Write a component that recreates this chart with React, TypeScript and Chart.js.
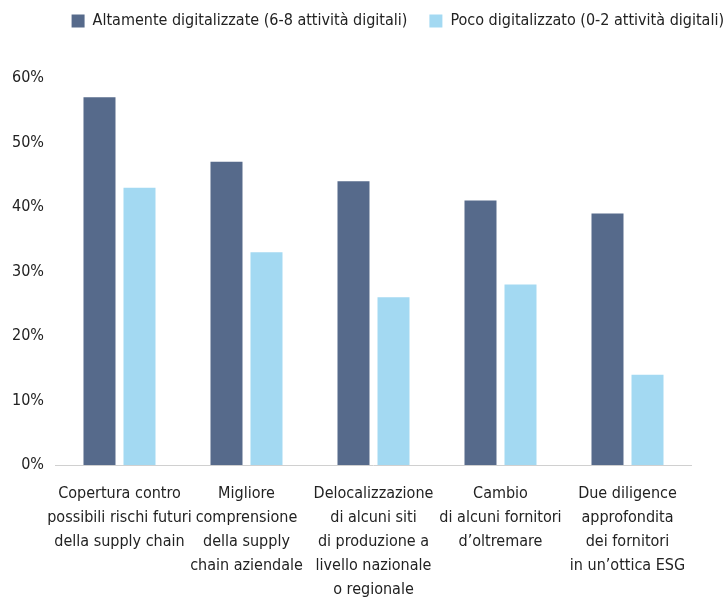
import React, { useEffect, useRef } from "react";
import { Chart, registerables } from "chart.js";

Chart.register(...registerables);

const categories: string[][] = [
  ["Copertura contro", "possibili rischi futuri", "della supply chain"],
  ["Migliore", "comprensione", "della supply", "chain aziendale"],
  ["Delocalizzazione", "di alcuni siti", "di produzione a", "livello nazionale", "o regionale"],
  ["Cambio", "di alcuni fornitori", "d\u2019oltremare"],
  ["Due diligence", "approfondita", "dei fornitori", "in un\u2019ottica ESG"],
];
const seriesHigh = [57, 47, 44, 41, 39];
const seriesLow = [43, 33, 26, 28, 14];
const seriesNames = [
  "Altamente digitalizzate (6-8 attivit\u00e0 digitali)",
  "Poco digitalizzato (0-2 attivit\u00e0 digitali)",
];
const yTicks = { min: 0, max: 60, step: 10 };

const FONT = "'Liberation Sans Narrow', 'DejaVu Sans Condensed', 'Roboto', sans-serif";

const legendSpacer = {
  id: "legendSpacer",
  beforeInit(chart: any) {
    const origFit = chart.legend.fit;
    chart.legend.fit = function () {
      origFit.bind(chart.legend)();
      this.height += 39;
    };
  },
};

export default function App() {
  const ref = useRef<HTMLCanvasElement | null>(null);
  useEffect(() => {
    document.body.style.margin = "0";
    if (!ref.current) return;
    const chart = new Chart(ref.current, {
      type: "bar",
      data: {
        labels: categories,
        datasets: [
          {
            label: seriesNames[0],
            data: seriesHigh,
            backgroundColor: "#566a8b",
            barPercentage: 0.8,
            categoryPercentage: 0.63,
          },
          {
            label: seriesNames[1],
            data: seriesLow,
            backgroundColor: "#a3d9f2",
            barPercentage: 0.8,
            categoryPercentage: 0.63,
          },
        ],
      },
      plugins: [legendSpacer],
      options: {
        animation: false,
        responsive: false,
        maintainAspectRatio: false,
        layout: { padding: { left: 0, right: -20, top: -9, bottom: -22 } },
        plugins: {
          legend: {
            position: "top",
            align: "end",
            labels: {
              boxWidth: 13,
              boxHeight: 13,
              padding: 22,
              color: "#222",
              font: { family: FONT, size: 16 },
            },
          },
          tooltip: { enabled: false },
        },
        scales: {
          x: {
            grid: { display: false, drawTicks: false },
            border: { display: true, color: "#d0d0d0", width: 1 },
            ticks: {
              color: "#222",
              font: { family: FONT, size: 16, lineHeight: 1.5 },
              maxRotation: 0,
              autoSkip: false,
              padding: 17,
            },
          },
          y: {
            min: yTicks.min,
            max: yTicks.max,
            grid: { display: false, drawTicks: false },
            border: { display: false },
            ticks: {
              stepSize: yTicks.step,
              color: "#222",
              font: { family: FONT, size: 16 },
              padding: 12,
              callback: (v: any) => `${v}%`,
            },
          },
          yRight: {
            position: "right",
            display: true,
            grid: { display: false, drawTicks: false },
            border: { display: false },
            ticks: { display: false },
            afterFit: (s: any) => {
              s.width = 55;
            },
          },
        },
      },
    });
    return () => chart.destroy();
  }, []);
  return (
    <div style={{ width: 726, height: 597 }}>
      <canvas ref={ref} width={726} height={597} />
    </div>
  );
}
